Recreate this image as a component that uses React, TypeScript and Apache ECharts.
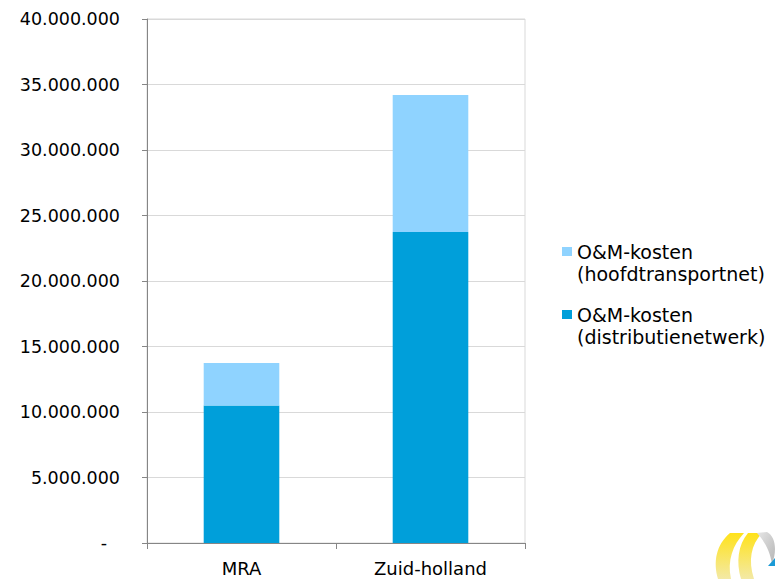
import React, { useEffect, useRef } from "react";
import * as echarts from "echarts";

const categories = ["MRA", "Zuid-holland"];
const distributieValues = [10500000, 23750000];
const hoofdtransportValues = [3250000, 10450000];
const nameDistributie = "O&M-kosten\n(distributienetwerk)";
const nameHoofd = "O&M-kosten\n(hoofdtransportnet)";
const yMin = 0;
const yMax = 40000000;
const yInterval = 5000000;

echarts.graphic.registerShape(
  "ribbonA",
  echarts.graphic.extendPath("M730 533 L744 533 C733 545 727 560 731 579 L718 579 C713 562 716 545 730 533 Z", {})
);
echarts.graphic.registerShape(
  "ribbonB",
  echarts.graphic.extendPath("M748 533 L762 533 C751 545 748 560 754 579 L741 579 C736 562 738 545 748 533 Z", {})
);
echarts.graphic.registerShape(
  "ribbonC",
  echarts.graphic.extendPath("M757 533 L767 532 C776 537 777 551 772 564 C770 552 766 543 757 533 Z", {})
);

const fmt = (v: number) => {
  if (v === 0) return "{z|-}";
  return String(Math.round(v)).replace(/\B(?=(\d{3})+(?!\d))/g, ".");
};

export default function App() {
  const ref = useRef<HTMLDivElement>(null);
  useEffect(() => {
    if (!ref.current) return;
    const chart = echarts.init(ref.current, undefined, { renderer: "svg" });
    const font = "DejaVu Sans";
    chart.setOption({
      animation: false,
      backgroundColor: "#ffffff",
      grid: {
        left: 147,
        right: 250,
        top: 19,
        bottom: 36,
        show: true,
        borderColor: "#d9d9d9",
        borderWidth: 1,
        outerBoundsMode: "none",
      },
      legend: {
        orient: "vertical",
        left: 562,
        top: 218.5,
        padding: 0,
        itemGap: -3,
        itemWidth: 10,
        itemHeight: 9,
        icon: "rect",
        data: [nameHoofd, nameDistributie],
        formatter: (name: string) => "\n" + name,
        textStyle: {
          fontFamily: font,
          fontSize: 19,
          lineHeight: 22,
          color: "#000",
        },
        itemStyle: { borderWidth: 0 },
        selectedMode: false,
      },
      xAxis: {
        type: "category",
        data: categories,
        axisLine: { lineStyle: { color: "#868686", width: 1 } },
        axisTick: { show: true, length: 6, lineStyle: { color: "#868686" } },
        axisLabel: { fontFamily: font, fontSize: 18, color: "#000", margin: 16 },
        splitLine: { show: false },
      },
      yAxis: {
        type: "value",
        min: yMin,
        max: yMax,
        interval: yInterval,
        axisLine: { show: true, lineStyle: { color: "#868686", width: 1 } },
        axisTick: { show: true, length: 5, lineStyle: { color: "#868686" } },
        axisLabel: {
          fontFamily: font,
          fontSize: 17.5,
          color: "#000",
          margin: 27,
          formatter: fmt,
          rich: { z: { fontFamily: font, fontSize: 17.5, color: "#000", padding: [0, 13, 0, 0] } },
        },
        splitLine: { show: true, lineStyle: { color: "#d9d9d9", width: 1 } },
      },
      series: [
        {
          name: nameDistributie,
          type: "bar",
          stack: "total",
          barWidth: "40%",
          data: distributieValues,
          itemStyle: { color: "#009fda" },
        },
        {
          name: nameHoofd,
          type: "bar",
          stack: "total",
          barWidth: "40%",
          data: hoofdtransportValues,
          itemStyle: { color: "#8fd3ff" },
        },
      ],
      graphic: [
        {
          type: "ribbonA",
          silent: true,
          style: {
            fill: { type: "linear", x: 0, y: 0, x2: 0, y2: 1, colorStops: [{ offset: 0, color: "#ffe21a" }, { offset: 1, color: "#f3e9a6" }] },
          },
        },
        {
          type: "ribbonB",
          silent: true,
          style: {
            fill: { type: "linear", x: 0, y: 0, x2: 0, y2: 1, colorStops: [{ offset: 0, color: "#ffe21a" }, { offset: 1, color: "#f3e9a6" }] },
          },
        },
        {
          type: "ribbonC",
          silent: true,
          style: {
            fill: { type: "linear", x: 0, y: 0, x2: 1, y2: 1, colorStops: [{ offset: 0, color: "#e6e6e6" }, { offset: 1, color: "#b5b5b5" }] },
          },
        },
        {
          type: "polygon",
          silent: true,
          shape: { points: [[768, 566], [775, 558], [775, 566]] },
          style: { fill: "#1a9ad6" },
        },
      ],
    });
    return () => chart.dispose();
  }, []);
  return <div ref={ref} style={{ position: "fixed", left: 0, top: 0, width: 775, height: 579 }} />;
}
